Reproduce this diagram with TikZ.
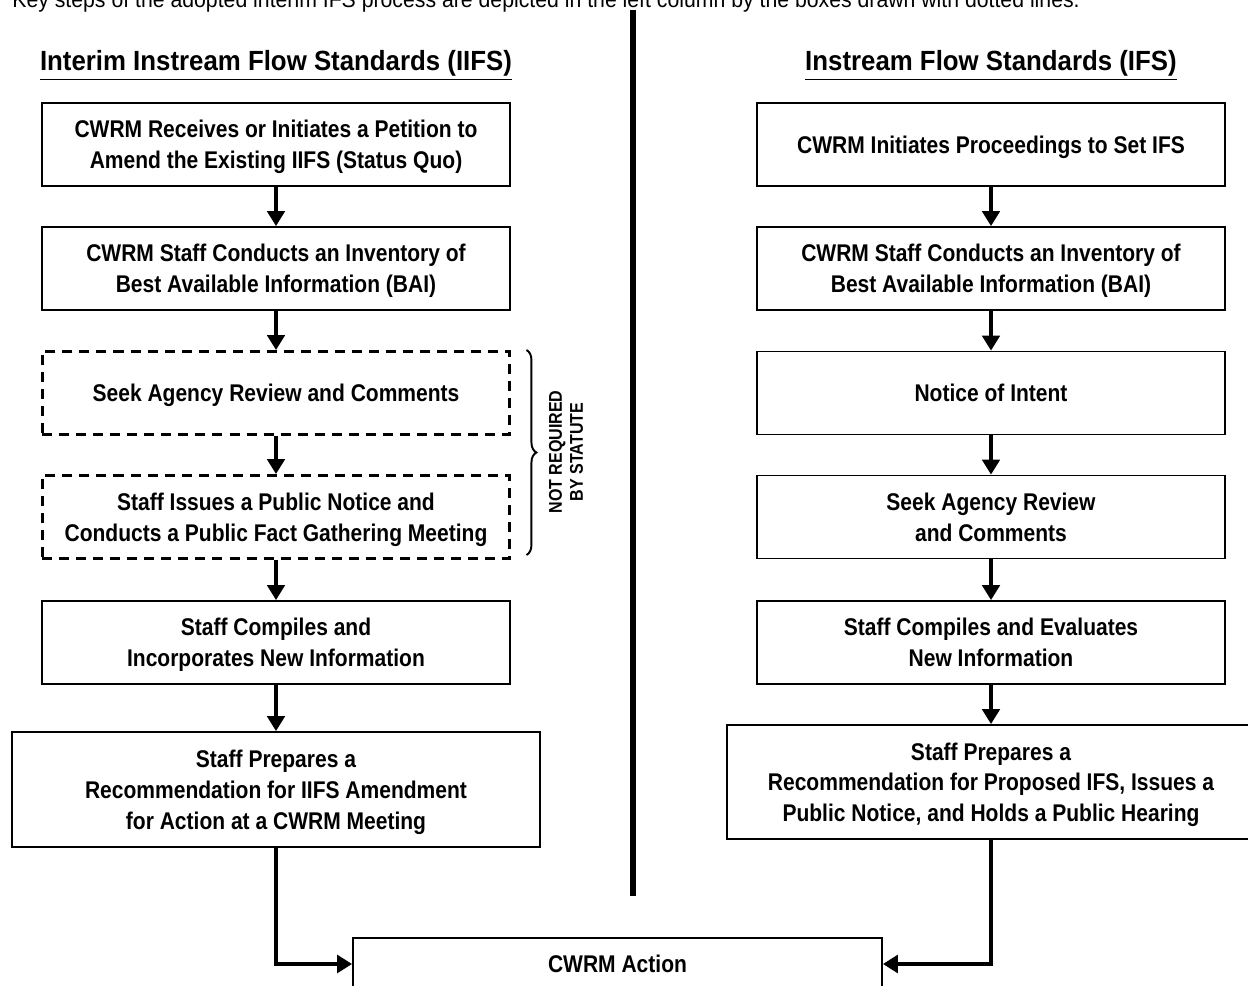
\documentclass[tikz,border=0pt]{standalone}
\usepackage{fontspec}
\setmainfont{Liberation Sans}[FakeStretch=0.93]
\newfontfamily\boxfont{Liberation Sans Bold}[FakeStretch=0.87]
\usetikzlibrary{arrows.meta,decorations.pathreplacing,calc}
\tikzset {>={Triangle[width=10pt,length=8.5pt]}}
\tikzset{
  box/.style={draw,line width=1.1pt,minimum width=9.36cm,minimum height=1.66cm,
    align=center,text depth=0pt,font=\boxfont\fontsize{13.75}{17.5}\selectfont},
  dbox/.style={box,line width=1.7pt,dash pattern=on 5.7pt off 4pt},
  wbox/.style={box,minimum width=10.56cm,minimum height=2.3cm},
  flow/.style={->,line width=1.8pt},
  feed/.style={->,line width=2.3pt}
}
\newcommand*{\hd}[1]{\underline{\fontsize{15.8}{19}\selectfont\bfseries #1}}

\begin{document}
\begin{tikzpicture}[x=0.02cm,y=-0.02cm]
\useasboundingbox (0,0) rectangle (1248,986);
\node[anchor=base west,inner sep=0pt,font=\fontsize{13}{16}\selectfont] (note) at (12,8)
  {Key steps of the adopted interim IFS process are depicted in the left column by the boxes drawn with dotted lines.};
\node[anchor=base] (hdl) at (276,71) {\hd{Interim Instream Flow Standards (IIFS)}};
\node[anchor=base] (hdr) at (991,71) {\hd{Instream Flow Standards (IFS)}};
\coordinate (divtop) at (633,10);
\coordinate (divbot) at (633,896);
\draw[line width=3.4pt] (divtop) -- (divbot);
% left column
\node[box] (l1) at (276,144.5) {CWRM Receives or Initiates a Petition to\\Amend the Existing IIFS (Status Quo)};
\node[box] (l2) at (276,268.5) {CWRM Staff Conducts an Inventory of\\Best Available Information (BAI)};
\node[dbox] (l3) at (276,393) {Seek Agency Review and Comments};
\node[dbox] (l4) at (276,517) {Staff Issues a Public Notice and\\Conducts a Public Fact Gathering Meeting};
\node[box] (l5) at (276,642.5) {Staff Compiles and\\Incorporates New Information};
\node[wbox] (l6) at (276,789.5) {Staff Prepares a\\Recommendation for IIFS Amendment\\for Action at a CWRM Meeting};
% right column
\node[box] (r1) at (991,144.5) {CWRM Initiates Proceedings to Set IFS};
\node[box] (r2) at (991,268.5) {CWRM Staff Conducts an Inventory of\\Best Available Information (BAI)};
\node[box] (r3) at (991,393) {Notice of Intent};
\node[box] (r4) at (991,517) {Seek Agency Review\\and Comments};
\node[box] (r5) at (991,642.5) {Staff Compiles and Evaluates\\New Information};
\node[wbox,minimum height=2.28cm] (r6) at (991,782) {Staff Prepares a\\Recommendation for Proposed IFS, Issues a\\Public Notice, and Holds a Public Hearing};
\node[box,minimum width=10.58cm,minimum height=1.04cm] (act) at (617.5,964) {CWRM Action};
\foreach \a/\b in {l1/l2,l2/l3,l3/l4,l4/l5,l5/l6,r1/r2,r2/r3,r3/r4,r4/r5,r5/r6}
  \draw[flow] (\a) -- (\b);
\draw[feed] (l6.south) |- (act.west);
\draw[feed] (r6.south) |- (act.east);
% brace for the dashed steps
\draw[line width=1.1pt,decorate,decoration={brace,amplitude=0.2cm}]
  ($(l3.north east)+(15,0)$) -- ($(l4.south east)+(15,-5)$);
\node[rotate=90,align=center,font=\boxfont\fontsize{10.5}{12}\selectfont] (nrs) at (566,452)
  {NOT REQUIRED\\BY STATUTE};
\end{tikzpicture}
\end{document}
